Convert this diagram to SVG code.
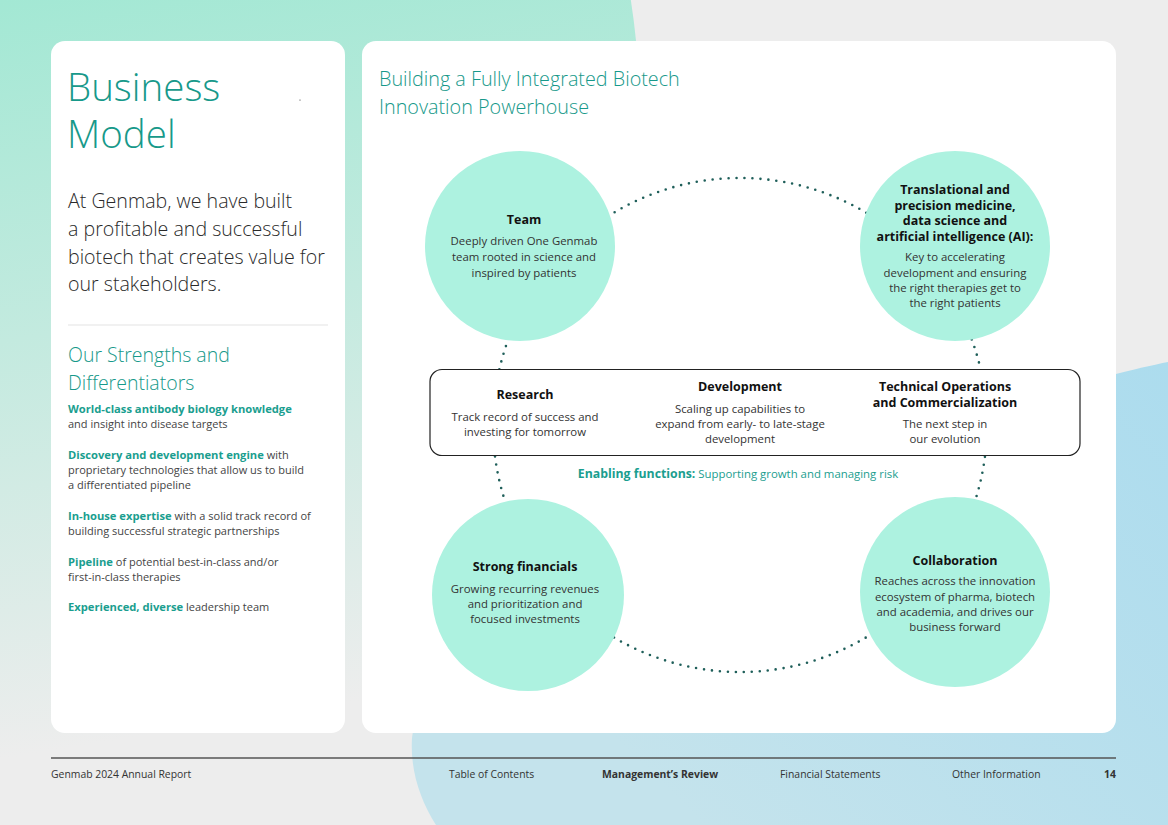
<svg xmlns="http://www.w3.org/2000/svg" width="1168" height="825" viewBox="0 0 1168 825">
<style>
text{font-family:"Open Sans","Noto Sans","Liberation Sans",sans-serif}
.ttl{fill:#17998a;font-weight:300}
.body{fill:#2a2a2a;font-size:19.6px;font-weight:300}
.sb{fill:#1a9e8f;font-weight:700;font-size:11.2px}
.sr{fill:#444;font-size:11px}
.h{fill:#111;font-weight:700;font-size:12.5px;text-anchor:middle}
.d{fill:#333;font-size:11.4px;text-anchor:middle}
.ft{fill:#333;font-size:10.4px}
.node{fill:#adf2e0}
</style>
<defs>
<linearGradient id="mint" gradientUnits="userSpaceOnUse" x1="0" y1="0" x2="120" y2="740">
<stop offset="0" stop-color="#a3e8d4"/>
<stop offset="0.45" stop-color="#c3eadf"/>
<stop offset="1" stop-color="#ededed"/>
</linearGradient>
<linearGradient id="blue" gradientUnits="userSpaceOnUse" x1="1168" y1="360" x2="700" y2="825">
<stop offset="0" stop-color="#acdcee"/>
<stop offset="1" stop-color="#c4e3ec"/>
</linearGradient>
</defs>
<rect width="1168" height="825" fill="#ededed"/>
<circle cx="-150" cy="120" r="790" fill="url(#mint)"/>
<path d="M1168,362 C1050,385 428,560 412,738 C410,770 420,800 436,825 L1168,825 Z" fill="url(#blue)"/>
<rect x="51" y="41" width="294" height="692" rx="14" fill="#fff"/>
<rect x="362" y="41" width="754" height="692" rx="14" fill="#fff"/>

<g id="left-panel">
<text class="ttl" x="67" y="101" font-size="38.5">Business</text>
<text class="ttl" x="67" y="148" font-size="38.5">Model</text>
<circle cx="300" cy="100" r="0.6" fill="#333"/>
<text class="body" x="68" y="208">At Genmab, we have built</text>
<text class="body" x="68" y="236">a profitable and successful</text>
<text class="body" x="68" y="264">biotech that creates value for</text>
<text class="body" x="68" y="291">our stakeholders.</text>
<line x1="68" y1="325" x2="328" y2="325" stroke="#e4e4e4" stroke-width="1.2"/>
<text class="ttl" x="68" y="362" font-size="19.5">Our Strengths and</text>
<text class="ttl" x="68" y="390" font-size="19.5">Differentiators</text>
<text x="68" y="413"><tspan class="sb">World-class antibody biology knowledge</tspan></text>
<text class="sr" x="68" y="428">and insight into disease targets</text>
<text x="68" y="459"><tspan class="sb">Discovery and development engine</tspan><tspan class="sr"> with</tspan></text>
<text class="sr" x="68" y="474">proprietary technologies that allow us to build</text>
<text class="sr" x="68" y="489">a differentiated pipeline</text>
<text x="68" y="520"><tspan class="sb">In-house expertise</tspan><tspan class="sr"> with a solid track record of</tspan></text>
<text class="sr" x="68" y="535">building successful strategic partnerships</text>
<text x="68" y="566"><tspan class="sb">Pipeline</tspan><tspan class="sr"> of potential best-in-class and/or</tspan></text>
<text class="sr" x="68" y="581">first-in-class therapies</text>
<text x="68" y="611"><tspan class="sb">Experienced, diverse</tspan><tspan class="sr"> leadership team</tspan></text>
</g>

<g id="title">
<text class="ttl" x="379" y="86" font-size="19.8">Building a Fully Integrated Biotech</text>
<text class="ttl" x="379" y="114" font-size="19.8">Innovation Powerhouse</text>
</g>

<g id="connectors">
<circle cx="740" cy="425" r="247" fill="none" stroke="#1f5f5a" stroke-width="2.6" stroke-linecap="round" stroke-dasharray="0 8"/>
</g>

<g id="team">
<circle class="node" cx="520" cy="246" r="95"/>
<text class="h" x="524" y="224">Team</text>
<text class="d" x="524" y="245">Deeply driven One Genmab</text>
<text class="d" x="524" y="261">team rooted in science and</text>
<text class="d" x="524" y="277">inspired by patients</text>
</g>

<g id="translational">
<circle class="node" cx="955" cy="246" r="95"/>
<text class="h" x="955" y="194">Translational and</text>
<text class="h" x="955" y="210">precision medicine,</text>
<text class="h" x="955" y="225">data science and</text>
<text class="h" x="955" y="241">artificial intelligence (AI):</text>
<text class="d" x="955" y="261">Key to accelerating</text>
<text class="d" x="955" y="277">development and ensuring</text>
<text class="d" x="955" y="292">the right therapies get to</text>
<text class="d" x="955" y="307">the right patients</text>
</g>

<g id="financials">
<circle class="node" cx="528" cy="595" r="96"/>
<text class="h" x="525" y="571">Strong financials</text>
<text class="d" x="525" y="593">Growing recurring revenues</text>
<text class="d" x="525" y="608">and prioritization and</text>
<text class="d" x="525" y="623">focused investments</text>
</g>

<g id="collaboration">
<circle class="node" cx="955" cy="592" r="95"/>
<text class="h" x="955" y="565">Collaboration</text>
<text class="d" x="955" y="585">Reaches across the innovation</text>
<text class="d" x="955" y="601">ecosystem of pharma, biotech</text>
<text class="d" x="955" y="616">and academia, and drives our</text>
<text class="d" x="955" y="631">business forward</text>
</g>

<g id="value-chain">
<rect x="430" y="369.5" width="650" height="86" rx="12" fill="#fff" stroke="#222" stroke-width="1.2"/>
<text class="h" x="525" y="399">Research</text>
<text class="d" x="525" y="421">Track record of success and</text>
<text class="d" x="525" y="436">investing for tomorrow</text>
<text class="h" x="740" y="391">Development</text>
<text class="d" x="740" y="413">Scaling up capabilities to</text>
<text class="d" x="740" y="428">expand from early- to late-stage</text>
<text class="d" x="740" y="443">development</text>
<text class="h" x="945" y="391">Technical Operations</text>
<text class="h" x="945" y="407">and Commercialization</text>
<text class="d" x="945" y="428">The next step in</text>
<text class="d" x="945" y="443">our evolution</text>
</g>

<g id="enabling">
<text x="738" y="478" text-anchor="middle"><tspan fill="#1a9e8f" font-weight="700" font-size="12.3">Enabling functions:</tspan><tspan fill="#1a9e8f" font-size="11.4"> Supporting growth and managing risk</tspan></text>
</g>

<g id="footer">
<line x1="51" y1="758" x2="1116" y2="758" stroke="#555" stroke-width="1.5"/>
<text class="ft" x="51" y="778">Genmab 2024 Annual Report</text>
<text class="ft" x="449" y="778">Table of Contents</text>
<text class="ft" x="602" y="778" font-weight="700" fill="#111">Management’s Review</text>
<text class="ft" x="780" y="778">Financial Statements</text>
<text class="ft" x="952" y="778">Other Information</text>
<text class="ft" x="1116" y="778" font-weight="700" fill="#111" text-anchor="end">14</text>
</g>
</svg>
